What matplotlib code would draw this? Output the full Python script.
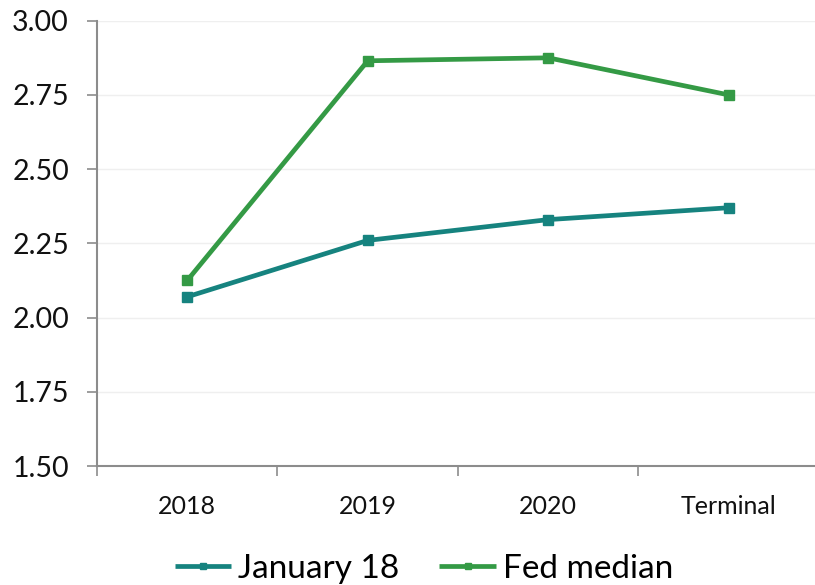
import matplotlib
matplotlib.use("Agg")
import matplotlib.pyplot as plt
from matplotlib.ticker import FixedLocator, FixedFormatter
import numpy as np

plt.rcParams['font.family'] = ['Lato', 'DejaVu Sans']

categories = ["2018", "2019", "2020", "Terminal"]
january_18 = [2.07, 2.26, 2.33, 2.37]
fed_median = [2.125, 2.865, 2.875, 2.75]
series_names = ["January 18", "Fed median"]
y_ticks = [1.50, 1.75, 2.00, 2.25, 2.50, 2.75, 3.00]

teal = "#16837f"
green = "#349a45"
axis_grey = "#8c8c8c"

fig = plt.figure(figsize=(8.15, 5.85), dpi=100)
ax = fig.add_axes([0.119, 0.2034, 0.8859, 0.7612])

x = np.arange(len(categories))
ax.plot(x, january_18, color=teal, lw=3.4, marker="s", ms=7.2, label=series_names[0],
        solid_capstyle="butt", zorder=3)
ax.plot(x, fed_median, color=green, lw=3.4, marker="s", ms=7.2, label=series_names[1],
        solid_capstyle="butt", zorder=3)

ax.set_xlim(-0.5, len(categories) - 0.5)
ax.set_ylim(1.5, 3.0)

# y axis
ax.yaxis.set_major_locator(FixedLocator(y_ticks))
ax.set_yticklabels([f"{v:.2f}" for v in y_ticks])
ax.tick_params(axis="y", which="major", length=7.2, width=1.2, color=axis_grey,
               labelsize=20.5, pad=13, labelcolor="#111111")
ax.grid(axis="y", color="#efefef", lw=1.0, zorder=0)

# x axis: labels at category centres, tick marks at category boundaries
ax.xaxis.set_major_locator(FixedLocator(x))
ax.xaxis.set_major_formatter(FixedFormatter(categories))
ax.xaxis.set_minor_locator(FixedLocator(np.arange(-0.5, len(categories), 1.0)))
ax.tick_params(axis="x", which="major", length=0, labelsize=18, pad=21,
               labelcolor="#111111")
ax.tick_params(axis="x", which="minor", length=7.2, width=1.2, color=axis_grey)

for side in ("top", "right"):
    ax.spines[side].set_visible(False)
for side in ("left", "bottom"):
    ax.spines[side].set_color(axis_grey)
    ax.spines[side].set_linewidth(1.5)
ax.spines["left"].set_zorder(4)

leg = fig.legend(loc="center", bbox_to_anchor=(0.52, 1 - 569 / 585), ncol=2,
                 frameon=False, fontsize=24, handlelength=1.7, handletextpad=0.2,
                 columnspacing=1.2, markerscale=0.6)

fig.savefig("out.png", dpi=100)
